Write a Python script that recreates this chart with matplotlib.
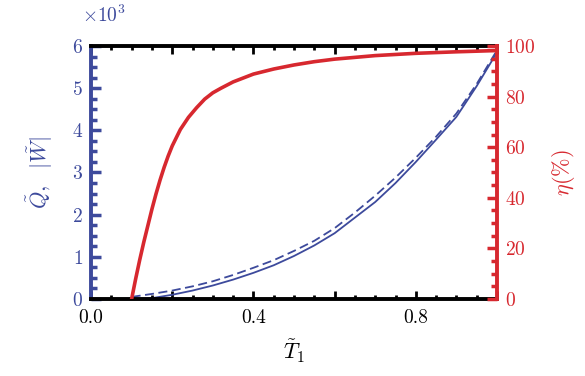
import numpy as np
import matplotlib
matplotlib.use('Agg')
import matplotlib.pyplot as plt
from matplotlib.ticker import MultipleLocator, FuncFormatter

plt.rcParams['font.family'] = 'serif'
plt.rcParams['font.serif'] = ['cmr10', 'DejaVu Serif']
plt.rcParams['mathtext.fontset'] = 'cm'
plt.rcParams['axes.formatter.use_mathtext'] = True

blue = '#3d4a9c'
red = '#d7282f'

# efficiency eta (%) vs T1
t_eta = [0.10, 0.11, 0.12, 0.13, 0.14, 0.15, 0.16, 0.17, 0.18, 0.19, 0.20, 0.22, 0.24,
         0.26, 0.28, 0.30, 0.32, 0.35, 0.40, 0.45, 0.50, 0.55, 0.60, 0.70, 0.80, 0.90, 1.00]
eta = [0, 8, 15.5, 22.5, 29, 35.5, 41.5, 47, 52, 56.5, 60.5, 67, 71.8,
       75.6, 79, 81.5, 83.3, 85.8, 88.9, 90.9, 92.5, 93.8, 94.8, 96.2, 97.1, 97.7, 98.2]

# Q (dashed) and |W| (solid), x10^3
t_qw = [0.10, 0.15, 0.20, 0.25, 0.30, 0.35, 0.40, 0.45, 0.50, 0.55,
        0.60, 0.65, 0.70, 0.75, 0.80, 0.85, 0.90, 0.95, 1.00]
q = [0.05, 0.12, 0.20, 0.30, 0.42, 0.57, 0.74, 0.92, 1.14, 1.38,
     1.68, 2.05, 2.45, 2.88, 3.35, 3.85, 4.40, 5.10, 5.90]
w = [0.0, 0.02, 0.10, 0.20, 0.32, 0.46, 0.62, 0.80, 1.02, 1.27,
     1.56, 1.93, 2.30, 2.75, 3.25, 3.78, 4.32, 5.05, 5.85]

fig = plt.figure(figsize=(5.85, 3.76), dpi=100)
ax = fig.add_axes([0.1556, 0.2048, 0.694, 0.6729])
ax2 = ax.twinx()

ax.plot(t_qw, q, '--', color=blue, lw=1.3, dashes=(5, 2.5))
ax.plot(t_qw, w, '-', color=blue, lw=1.3)
ax2.plot(t_eta, eta, '-', color=red, lw=2.6, solid_joinstyle='round')

ax.set_xlim(0, 1.0)
ax.set_ylim(0, 6)
ax2.set_ylim(0, 100)

ax.xaxis.set_major_locator(MultipleLocator(0.2))
ax.xaxis.set_minor_locator(MultipleLocator(0.05))
ax.xaxis.set_major_formatter(FuncFormatter(
    lambda v, p: '%.1f' % v if round(v * 10) % 4 == 0 else ''))
ax.yaxis.set_major_locator(MultipleLocator(1))
ax.yaxis.set_minor_locator(MultipleLocator(0.25))
ax2.yaxis.set_major_locator(MultipleLocator(20))
ax2.yaxis.set_minor_locator(MultipleLocator(5))

ax.tick_params(axis='x', which='both', direction='in', top=True, bottom=True,
               colors='black', labelsize=14, width=2, pad=7)
ax.tick_params(axis='x', which='major', length=6)
ax.tick_params(axis='x', which='minor', length=3)
ax.tick_params(axis='y', which='both', direction='in', left=True, right=False,
               colors=blue, labelsize=14, width=2.5, pad=6)
ax.tick_params(axis='y', which='major', length=7)
ax.tick_params(axis='y', which='minor', length=4)
ax2.tick_params(axis='y', which='both', direction='in', right=True, left=False,
                colors=red, labelsize=14, width=2.5, pad=6)
ax2.tick_params(axis='y', which='major', length=7)
ax2.tick_params(axis='y', which='minor', length=4)

for s in ['top', 'bottom']:
    ax.spines[s].set_linewidth(2.8)
    ax.spines[s].set_color('black')
ax.spines['left'].set_linewidth(2.8)
ax.spines['left'].set_color(blue)
ax2.spines['right'].set_linewidth(2.8)
ax2.spines['right'].set_color(red)
ax2.spines['left'].set_visible(False)
ax2.spines['top'].set_visible(False)
ax2.spines['bottom'].set_visible(False)
ax.spines['right'].set_visible(False)

ax.set_xlabel(r'$\tilde{T}_1$', fontsize=16, labelpad=8)
ax.set_ylabel(r'$\tilde{Q},\ \ |\tilde{W}|$', fontsize=16, color=blue, labelpad=12)
ax2.set_ylabel(r'$\eta(\%)$', fontsize=16, color=red, labelpad=10)
fig.text(0.14, 0.958, r'$\times10^3$', fontsize=14, color=blue, ha='left', va='center')

fig.savefig('out.png', dpi=100)
